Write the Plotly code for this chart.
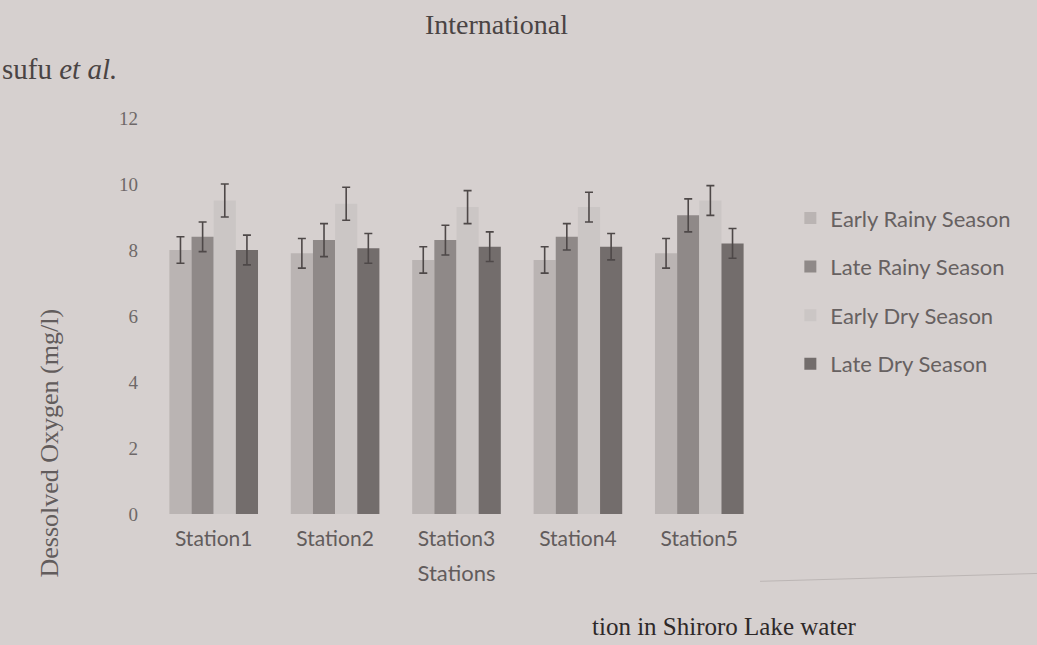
import plotly.graph_objects as go

stations = ["Station1", "Station2", "Station3", "Station4", "Station5"]

early_rainy = [8.0, 7.9, 7.7, 7.7, 7.9]
late_rainy = [8.4, 8.3, 8.3, 8.4, 9.05]
early_dry = [9.5, 9.4, 9.3, 9.3, 9.5]
late_dry = [8.0, 8.05, 8.1, 8.1, 8.2]

err_early_rainy = [0.4, 0.45, 0.4, 0.4, 0.45]
err_late_rainy = [0.45, 0.5, 0.45, 0.4, 0.5]
err_early_dry = [0.5, 0.5, 0.5, 0.45, 0.45]
err_late_dry = [0.45, 0.45, 0.45, 0.4, 0.45]

series = [
    ("Early Rainy Season", early_rainy, err_early_rainy, "#bab4b3"),
    ("Late Rainy Season", late_rainy, err_late_rainy, "#8f8988"),
    ("Early Dry Season", early_dry, err_early_dry, "#cbc6c5"),
    ("Late Dry Season", late_dry, err_late_dry, "#736d6c"),
]

paper_bg = "#d6d0cf"
ink = "#5f5959"

fig = go.Figure()
for name, vals, errs, color in series:
    fig.add_trace(go.Bar(
        name=name,
        x=stations,
        y=vals,
        marker=dict(color=color, line=dict(width=0)),
        error_y=dict(type="data", array=errs, visible=True,
                     color="#4e4848", thickness=1.6, width=4),
        legendgroup=name,
    ))

fig.update_layout(
    width=1037,
    height=645,
    paper_bgcolor=paper_bg,
    plot_bgcolor=paper_bg,
    barmode="group",
    bargap=0.27,
    bargroupgap=0,
    margin=dict(l=153, r=277, t=118, b=131),
    font=dict(family="Lato, sans-serif", color=ink),
    legend=dict(
        x=1.05, y=0.80, xanchor="left", yanchor="top",
        font=dict(family="Lato, sans-serif", size=22, color="#676161"),
        tracegroupgap=17,
        bgcolor="rgba(0,0,0,0)",
        itemwidth=30,
    ),
    xaxis=dict(
        showgrid=False, showline=False, zeroline=False, ticks="",
        tickfont=dict(family="Lato, sans-serif", size=21, color="#625c5c"),
        ticklabelstandoff=10,
        title=dict(text="Stations", font=dict(family="Lato, sans-serif", size=22, color="#625c5c"),
                   standoff=16),
    ),
    yaxis=dict(
        range=[0, 12], tickvals=[0, 2, 4, 6, 8, 10, 12],
        showgrid=False, showline=False, zeroline=False, ticks="",
        tickfont=dict(family="Liberation Serif, serif", size=19, color="#6e6868"),
        ticklabelstandoff=14,
    ),
    annotations=[
        dict(text="Dessolved Oxygen (mg/l)", textangle=-90, xref="paper", yref="paper",
             x=-0.17, y=0.18, xanchor="center", yanchor="middle", showarrow=False,
             font=dict(family="Liberation Serif, serif", size=26, color="#625c5c")),
        dict(text="sufu <i>et al.</i>", xref="paper", yref="paper",
             x=-0.252, y=1.125, xanchor="left", yanchor="middle", showarrow=False,
             font=dict(family="Liberation Serif, serif", size=29, color="#4a4444")),
        dict(text="International", xref="paper", yref="paper",
             x=0.445, y=1.235, xanchor="left", yanchor="middle", showarrow=False,
             font=dict(family="Liberation Serif, serif", size=28, color="#4a4444")),
        dict(text="tion in Shiroro Lake water", xref="paper", yref="paper",
             x=0.72, y=-0.285, xanchor="left", yanchor="middle", showarrow=False,
             font=dict(family="Liberation Serif, serif", size=25, color="#2e2929")),
    ],
    shapes=[
        dict(type="line", xref="paper", yref="paper", x0=1.0, x1=1.46, y0=-0.17, y1=-0.15,
             line=dict(color="#bcb6b5", width=1)),
    ],
)

fig.write_html("out.html")
